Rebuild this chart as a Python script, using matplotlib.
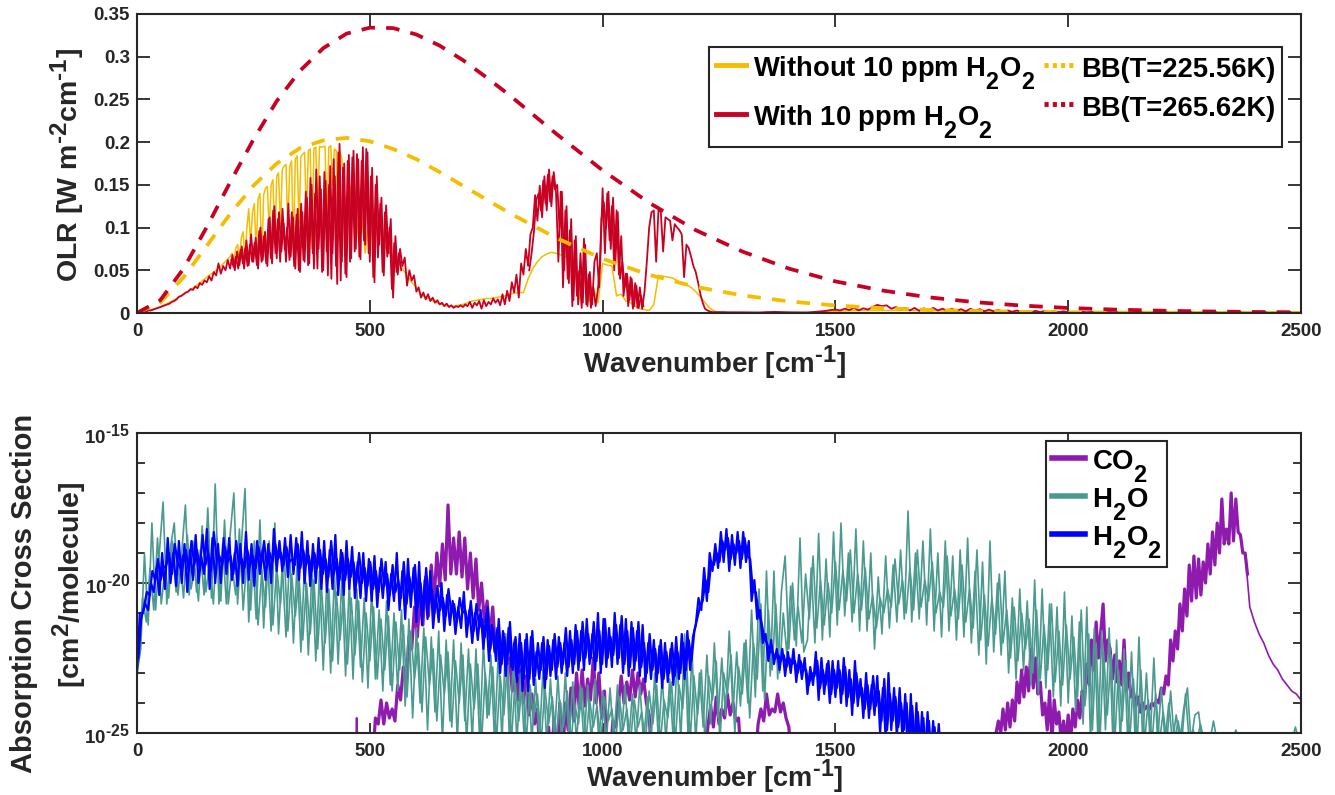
import numpy as np
import matplotlib
matplotlib.use("Agg")
import matplotlib.pyplot as plt
from matplotlib.lines import Line2D
import matplotlib.ticker as mticker
import matplotlib._mathtext as mt

# MATLAB-style scripts: large and dropped far below the baseline
mt.SHRINK_FACTOR = 0.85
mt.FontConstantsBase.sub1 = 0.9
mt.FontConstantsBase.sub2 = 0.9

plt.rcParams['font.family'] = ['Liberation Sans', 'DejaVu Sans']
plt.rcParams['font.weight'] = 'bold'
plt.rcParams['mathtext.fontset'] = 'custom'
plt.rcParams['mathtext.bf'] = 'Liberation Sans:bold'
plt.rcParams['mathtext.rm'] = 'Liberation Sans:bold'
plt.rcParams['mathtext.default'] = 'bf'

# ---------- OLR panel (values x 1e-3 W m-2 cm-1) ----------
bb_wn = [0, 50, 100, 150, 200, 250, 300, 350, 400, 450, 500, 550, 600, 650, 700, 750, 800, 900, 1000, 1100,
         1200, 1300, 1400, 1500, 1600, 1700, 1800, 1900, 2000, 2100, 2200, 2300, 2400, 2500]
bb_265 = [0, 15.0, 52.0, 100.8, 153, 203, 248, 283.5, 310, 327, 334, 333.5, 326, 313, 296, 276, 255, 210, 167, 129,
          97, 72, 52, 37, 26.4, 18.4, 12.7, 8.7, 5.9, 4.0, 2.7, 1.8, 1.2, 0.8]
bb_225 = [0, 12.4, 41.9, 78.7, 116, 149, 175, 193, 202, 205, 201, 192, 180, 165, 149, 133, 117, 88, 63.5, 44.7,
          30.6, 20.6, 13.6, 8.8, 5.7, 3.6, 2.3, 1.4, 0.9, 0.5, 0.3, 0.2, 0.1, 0.1]

red_a = [0, 0, 1, 1, 2, 3, 3, 4, 5, 6,
         7, 8, 9, 10, 11, 13, 14, 16, 19, 20,
         22, 24, 25, 28, 27, 31, 29, 35, 33, 38,
         36, 43, 38, 48, 44, 58, 46, 55, 50, 62,
         52, 68, 50, 72, 56, 78, 52, 85, 56, 92,
         60, 88, 52, 100, 62, 95, 55, 112, 58, 125,
         64, 118, 72, 105, 60, 128, 66, 112, 52, 122,
         48, 118, 60, 135, 58, 150, 52, 168, 75, 145,
         50, 155, 44, 172, 70, 160, 34, 198, 60, 175,
         42, 185, 64, 190, 75, 180, 63, 194, 80, 188,
         60, 170, 36, 160, 80, 135, 44, 126, 70, 110,
         18, 90, 45, 75, 55, 65, 32, 50, 38, 44,
         25, 30, 18, 24, 16, 22, 14, 18, 12, 15,
         10, 12, 8, 11, 7, 9, 6, 8, 7, 9,
         7, 10, 8, 13, 6, 12, 9, 14, 5, 15,
         8, 13, 10, 17, 12, 16, 9, 22, 10, 26,
         14, 36, 24, 45, 18, 58, 45, 75, 55, 92,
         100, 138, 108, 149, 112, 160, 120, 168, 125, 165,
         140, 60, 142, 30, 120, 40, 97, 8, 85, 20,
         50, 6, 87, 10, 45, 6, 30, 8, 28, 60,
         146, 70, 140, 85, 125, 50, 120, 45, 90, 20,
         46, 8, 42, 5, 35, 6, 30, 5, 25, 60,
         100, 118, 120, 60, 121, 118, 72, 112, 110, 108,
         85, 104, 100, 97, 92, 42, 80, 76, 66, 55,
         48, 36, 22, 12, 5, 3, 2, 1, 1, 1]
red_a2 = [62, 54, 66, 52, 74, 58, 76, 55, 80, 60,
          82, 56, 96, 60, 90, 58, 110, 64, 120, 70,
          110, 60, 122, 74, 100, 62, 118, 55, 115, 50,
          128, 62, 142, 56, 158, 70, 140, 52, 160, 48,
          165, 72, 150, 40, 180, 55, 188, 38, 170, 46,
          178, 60, 182, 72, 186, 66, 178, 85, 192, 70,
          160, 42, 150, 65, 128, 48, 118, 66, 100, 28,
          82, 48, 70, 50]
red_a3 = [50, 70, 95, 132, 140, 120, 155, 128, 162, 130,
          160, 145, 150, 100, 142, 50, 125, 35, 110, 15,
          90, 10, 70, 12, 80, 8, 48, 10, 60, 70,
          30, 110, 130, 100, 142, 75, 135, 60, 118, 40,
          60, 30, 46, 15, 40, 8, 32, 6, 20, 8]
red_b = [1, 1, .8, .8, .8, .7, .7, .6, .6, .6,
         1, 1.2, 1.3, 1.1, .9, .8, .7, .7, .6, .6,
         1, 1.5, 2, 2.5, 3.5, 4, 3, 5, 3.5, 6,
         3, 5.5, 4, 7, 9.5, 8, 9, 5, 7, 4,
         6, 3, 6, 2.5, 5.5, 3, 6, 3, 5, 2.5,
         5, 2.5, 4.5, 2, 5, 2.5, 4.5, 2, 4, 2,
         3.5, 1.5, 3, 1.5, 3, 1, 2.5, 1, 2.5, 1,
         2.5, 1, 2, 1, 2, .8, 1.5, .8, 1.5, .8,
         1.2, .8, 1, .7, 1, .7, 1, .7, 1, .7,
         .8, .7, .8, .6, .8, .6, .8, .6, .7, .6,
         .7, 1, .7, 1, .7, .9, .7, .9, .7, 1,
         .8, 1.1, .8, 1, .8, 1, .8, 1, .9, 1,
         1, 1, 1.2, 1, 1.3, 1.2]

yel_a = [0, 3, 7, 14, 22, 31, 42, 52]
yel_b = [66, 70, 58, 76, 80, 62, 88, 95, 62, 100,
         122, 80, 118, 128, 72, 133, 140, 60, 138, 146,
         148, 95, 150, 156, 80, 160, 164, 100, 168, 172,
         174, 100, 172, 178, 70, 180, 184, 105, 183, 186,
         188, 110, 190, 192, 75, 193, 194, 120, 195, 194,
         195, 195, 100, 194, 196, 150, 192, 190, 85, 189]
yel_c = [180, 100, 150, 80, 130, 70, 120, 90, 110, 80,
         72, 66, 60, 52, 44, 36, 30, 22, 18, 16,
         13, 11, 9, 8, 8, 9, 10, 12, 14, 15,
         16, 17, 17, 18, 19, 20, 22, 23, 24, 24,
         40, 52, 60, 66, 69, 71, 70, 68, 66, 65,
         50, 15, 45, 13, 30, 12, 58, 56, 55, 20,
         22, 14, 12, 8, 5, 4, 3, 10, 44, 43,
         42, 41, 38, 35, 33, 30, 25, 19, 12, 6, 2, 1]
yel_d = [.6, .5, .5, .6, .8, 2, 3, 3, 3, 3, 2, 2, 2, 1, 1, 1, 1, 1, 1, 1, 1, 1, 1, 1, 1]

# ---------- Cross-section panel (log10 cm2/molecule) ----------
h2o = [-23.0, -22.2, -19.0, -21.4, -18.0, -20.9, -19.0, -17.3, -20.7, -18.8,
       -18.0, -20.4, -19.0, -17.4, -20.4, -18.6, -20.3, -18.9, -20.4, -17.5,
       -20.5, -16.7, -20.7, -18.7, -20.7, -18.4, -17.0, -20.7, -18.8, -16.85,
       -21.3, -18.9, -21.2, -17.9, -21.5, -19.0, -21.6, -18.0, -21.7, -19.4,
       -21.8, -19.0, -22.0, -19.3, -22.3, -19.3, -22.4, -19.5, -22.6, -19.6,
       -22.9, -19.8, -23.0, -19.7, -22.7, -19.8, -23.1, -20.0, -23.2, -20.2,
       -22.8, -20.5, -23.5, -20.2, -23.2, -20.9, -23.6, -20.6, -23.4, -21.0,
       -23.6, -20.9, -24.1, -21.2, -24.5, -21.5, -24.0, -21.5, -24.9, -21.8,
       -24.3, -21.6, -25.3, -21.9, -24.6, -21.9, -25.3, -22.0, -24.6, -22.2,
       -25.3, -22.2, -25.3, -22.0, -24.5, -22.4, -25.3, -22.3, -25.3, -21.7,
       -25.3, -22.6, -25.3, -23.0, -25.3, -22.8, -25.3, -23.2, -25.3, -22.9,
       -25.3, -23.2, -25.3, -23.1, -25.3, -23.0, -25.3, -23.3, -25.3, -23.4,
       -25.3, -23.4, -25.3, -23.2, -25.3, -23.6, -25.3, -23.5, -25.3, -23.4,
       -25.3, -23.4, -25.3, -23.7, -25.3, -23.4, -25.3, -23.8, -25.3, -23.0,
       -25.3, -23.1, -25.3, -23.2, -25.3, -22.5, -25.3, -21.7, -25.3, -22.3,
       -25.3, -23.0, -24.8, -22.4, -24.7, -22.0, -24.5, -22.5, -24.4, -21.6,
       -24.3, -22.3, -24.1, -22.0, -24.0, -20.9, -23.8, -20.2, -23.6, -19.6,
       -23.1, -19.6, -23.2, -20.3, -19.1, -22.2, -20.0, -22.1, -18.5, -22.3,
       -21.9, -19.5, -22.0, -18.35, -21.9, -19.2, -21.8, -18.3, -21.4, -18.0,
       -21.1, -19.0, -21.3, -18.2, -21.6, -18.6, -21.6, -19.0, -22.2, -19.8,
       -21.7, -19.1, -21.5, -19.4, -21.3, -18.9, -21.2, -17.6, -21.3, -19.0,
       -21.2, -18.6, -21.4, -18.2, -21.6, -19.0, -21.8, -18.6, -21.6, -19.1,
       -21.9, -18.9, -21.8, -18.5, -22.0, -19.6, -22.4, -19.3, -22.7, -18.6,
       -22.3, -20.0, -22.4, -19.6, -23.0, -20.5, -23.2, -20.2, -22.9, -20.6,
       -23.4, -19.9, -23.7, -20.2, -23.5, -20.7, -23.8, -20.8, -24.1, -20.3,
       -24.0, -21.1, -24.3, -21.3, -24.7, -20.8, -25.3, -21.5, -25.3, -21.6,
       -24.9, -21.5, -25.3, -21.9, -25.3, -22.2, -25.3, -22.3, -25.3, -21.8,
       -25.3, -23.0, -25.3, -22.5, -25.3, -23.5, -25.3, -24.0, -25.3, -24.4,
       -25.3, -24.2, -23.5, -25.3, -24.4, -24.3, -25.3, -25.3, -25.3, -24.6,
       -25.3, -25.3, -25.3, -25.3, -25.3, -24.9, -25.3, -25.3, -25.3, -25.3,
       -25.3, -25.3, -25.3, -25.3, -25.3, -25.3, -25.3, -25.3, -25.3, -25.3,
       -25.3, -24.8, -25.3]
h2o_2 = [-22.6, -20.5, -21.3, -19.5, -20.9, -18.5, -20.7, -19.6, -20.5, -18.6,
         -20.3, -19.2, -20.5, -18.4, -20.2, -19.5, -20.6, -18.1, -20.3, -19.3,
         -20.7, -18.5, -20.6, -17.9, -20.7, -19.4, -20.4, -18.2, -20.9, -19.2,
         -20.9, -18.6, -21.4, -19.6, -20.8, -18.6, -21.4, -19.5, -20.7, -19.0,
         -21.6, -19.7, -21.1, -19.8, -21.9, -20.0, -21.7, -19.9, -22.2, -20.1,
         -22.0, -20.2, -22.6, -20.3, -21.9, -20.4, -22.7, -20.5, -22.4, -20.6,
         -23.3, -21.0, -22.6, -20.8, -23.2, -21.2, -22.9, -21.1, -23.6, -21.3,
         -22.9, -21.4, -23.8, -21.6, -23.2, -22.0, -24.3, -21.8, -23.4, -22.2,
         -24.6, -22.4, -23.7, -22.3, -24.8, -22.6, -24.0, -22.4, -25.3, -22.7,
         -24.2, -22.7, -25.3, -23.0, -24.4, -22.8, -25.3, -23.1, -24.4, -22.5,
         -25.3, -23.3, -24.6, -23.1, -25.3, -23.4, -24.5, -23.7, -25.3, -23.5,
         -24.7, -23.8, -25.3, -23.9, -24.8, -23.6, -25.3, -24.0, -24.7, -23.5,
         -25.3, -23.9, -24.8, -24.1, -25.3, -23.8, -24.6, -24.2, -25.3, -23.8,
         -24.9, -24.2, -25.3, -23.9, -24.8, -24.3, -25.3, -23.6, -24.7, -23.4,
         -25.3, -23.9, -24.5, -23.3, -25.3, -23.4, -24.2, -22.4, -25.3, -23.1,
         -24.4, -22.9, -25.3, -23.1, -23.9, -22.6, -25.3, -23.0, -23.7, -22.4,
         -25.0, -22.8, -23.7, -21.9, -24.5, -22.0, -23.2, -20.7, -23.9, -20.9,
         -22.9, -20.7, -23.0, -21.0, -22.4, -20.1, -21.9, -20.8, -22.0, -19.7,
         -21.2, -19.1, -21.5, -19.9, -21.4, -20.0, -21.0, -19.3, -20.9, -19.6,
         -20.6, -18.9, -21.0, -19.7, -20.9, -19.5, -21.2, -20.4, -21.5, -20.5,
         -21.0, -20.2, -20.8, -19.2, -20.7, -19.9, -21.0, -19.5, -20.9, -18.9,
         -20.8, -19.9, -20.6, -19.3, -21.0, -20.3, -20.8, -19.1, -21.1, -20.2,
         -21.2, -19.4, -21.3, -20.2, -21.5, -18.9, -21.9, -20.4, -22.1, -20.5,
         -21.7, -19.7, -22.0, -20.9, -22.5, -20.8, -22.6, -21.0, -22.2, -21.2,
         -23.0, -20.9, -23.2, -21.4, -22.9, -20.7, -23.3, -21.6, -23.4, -21.4,
         -23.2, -21.8, -23.8, -20.9, -24.1, -21.7, -24.9, -22.0, -25.3, -22.3,
         -24.4, -22.4, -25.3, -22.9, -24.6, -22.6, -25.3, -23.2, -25.3, -22.9,
         -25.3, -23.9, -25.3, -23.7, -25.3, -24.3, -25.3, -23.6, -25.3, -24.6,
         -25.3, -23.7, -25.3, -24.9, -25.3, -24.7, -25.3, -25.3]

co2_spike_wn = [470, 472, 474]
co2_spike = [-26, -24.5, -26]
co2_a = [-26, -26, -24.5, -24.7, -23.9, -24.7, -24.0, -24.5, -24.2, -24.6,
         -23.4, -23.9, -22.8, -23.4, -21.8, -22.2, -20.8, -21.8, -20.4, -21.4,
         -19.8, -21.1, -19.4, -20.6, -19.0, -20.1, -18.7, -19.9, -17.4, -19.7,
         -18.5, -19.7, -18.3, -19.8, -18.5, -20.2, -19.0, -20.5, -19.2, -20.9,
         -20.0, -21.3, -20.6, -21.8, -20.8, -22.3, -21.6, -22.7, -21.7, -23.0,
         -22.5, -23.6, -21.9, -23.9, -22.9, -24.0, -23.1, -24.4, -23.7, -24.7,
         -24.2, -26, -26, -26, -24.8, -26, -24.5, -26, -24.0, -26,
         -24.0, -24.9, -23.5, -24.6, -23.0, -24.2, -22.9, -24.1, -23.2, -23.9,
         -22.5, -24.0, -23.0, -24.5, -23.6, -26, -26, -24.6, -24.8, -24.0,
         -23.1, -24.0, -23.3, -23.9, -22.9, -23.8, -23.0, -23.7, -23.2, -24.0,
         -24.4, -26, -26, -26, -26, -26, -26, -26, -26, -26,
         -26, -26, -26, -26, -26, -26, -26, -26, -26, -26,
         -26, -24.8, -24.1, -24.8, -23.8, -24.7, -24.2, -24.5, -23.7, -24.4,
         -24.0, -24.6, -24.5, -26, -26, -26, -26, -26, -26, -24.7,
         -24.2, -24.6, -23.7, -24.4, -24.2, -24.3, -23.7, -24.3, -24.0, -24.5,
         -24.8, -26, -26]
co2_b = [-26, -25, -24.6, -25, -24.2, -24.9, -24.0, -24.8, -23.9, -24.6,
         -23.3, -24.0, -22.9, -23.8, -22.8, -23.6, -22.2, -23.5, -22.5, -23.7,
         -23.3, -24.4, -24.0, -24.9, -23.6, -25.3, -23.9, -24.7, -24.3, -25.3,
         -24.6, -25.3, -24.4, -25.3, -24.2, -24.8, -23.9, -24.5, -23.6, -23.9,
         -22.7, -23.4, -21.9, -22.9, -21.3, -22.5, -21.6, -20.7, -22.6, -21.9,
         -22.2, -23.2, -22.4, -23.3, -22.6, -23.4, -21.9, -23.6, -23.0, -23.8,
         -23.6, -24.1, -23.8, -24.3, -24.0, -24.2, -24.1, -24.2, -24.0, -24.1,
         -23.9, -24.0, -23.5, -23.7, -23.1, -23.4, -21.9, -22.6, -21.6, -22.2,
         -20.7, -21.6, -20.2, -21.1, -19.4, -20.6, -19.1, -20.5, -19.2, -20.4,
         -19.3, -20.0, -18.7, -19.7, -18.3, -19.4, -18.0, -19.0, -17.2, -18.7,
         -18.2, -18.7, -17.0, -18.6, -17.2, -18.3, -18.4, -19.0, -19.0, -19.7]
co2_c = [-19.0, -20.8, -21.3, -21.7, -22.0, -22.4, -22.7, -22.9, -23.2, -23.4, -23.6, -23.7, -23.9]

h2o2 = [-23.0, -21.0, -21.0, -20.7, -20.9, -20.0, -20.3, -19.5, -20.4, -19.0,
        -20.2, -18.5, -20.0, -19.0, -20.1, -18.6, -20.0, -18.7, -20.3, -18.9,
        -19.9, -18.4, -20.0, -19.1, -19.7, -18.2, -20.2, -18.5, -20.0, -18.7,
        -20.0, -18.5, -19.7, -18.5, -19.9, -19.0, -20.1, -18.7, -20.0, -18.3,
        -19.9, -18.7, -20.1, -18.6, -19.7, -18.9, -19.9, -18.7, -20.0, -18.2,
        -19.6, -18.6, -19.6, -18.5, -19.8, -18.4, -19.7, -18.5, -19.9, -18.3,
        -20.0, -18.6, -20.1, -18.7, -20.0, -18.5, -20.2, -18.6, -20.3, -18.9,
        -20.2, -18.4, -20.4, -18.9, -20.4, -18.6, -20.2, -18.8, -20.5, -19.3,
        -20.5, -19.0, -20.6, -19.2, -20.6, -19.1, -20.8, -19.5, -20.5, -19.3,
        -20.9, -19.7, -20.6, -19.0, -20.9, -19.6, -21.2, -19.2, -20.8, -19.5,
        -21.3, -19.3, -21.4, -19.9, -21.2, -19.6, -21.5, -20.4, -21.3, -20.0,
        -21.6, -20.4, -21.4, -20.6, -21.7, -20.8, -21.5, -20.3, -21.8, -20.9,
        -22.0, -21.0, -21.9, -20.9, -22.2, -21.0, -22.6, -21.4, -22.3, -21.5,
        -23.0, -21.6, -23.1, -21.5, -22.8, -22.0, -23.3, -21.7, -23.6, -21.9,
        -23.6, -21.8, -23.4, -22.3, -23.2, -22.0, -23.5, -21.9, -23.1, -21.9,
        -23.2, -21.8, -23.0, -22.0, -23.1, -21.6, -23.0, -21.4, -22.9, -21.6,
        -22.9, -21.2, -22.7, -21.7, -22.9, -21.0, -23.0, -21.2, -22.8, -21.5,
        -22.8, -21.0, -22.7, -21.4, -23.0, -21.2, -23.1, -21.3, -22.9, -21.6,
        -23.1, -21.4, -23.3, -22.0, -23.2, -21.9, -23.3, -22.1, -23.5, -22.0,
        -23.3, -22.2, -23.4, -21.8, -23.2, -21.7, -23.2, -21.6, -22.9, -21.8,
        -21.4, -20.5, -20.9, -19.5, -20.6, -19.0, -19.6, -18.7, -19.5, -18.3,
        -19.3, -18.2, -19.6, -18.4, -19.4, -18.3, -19.5, -18.3, -19.3, -18.6,
        -20.6, -19.9, -21.2, -20.9, -22.0, -21.7, -22.6, -21.9, -22.7, -22.2,
        -22.9, -22.2, -23.1, -22.3, -23.0, -22.2, -23.3, -22.4, -23.2, -22.5,
        -23.7, -22.8, -23.4, -22.3, -23.9, -22.5, -23.7, -22.7, -24.0, -22.6,
        -23.8, -22.6, -24.0, -22.5, -24.1, -22.9, -24.4, -22.6, -24.1, -23.2,
        -24.5, -23.0, -24.5, -23.4, -24.4, -23.1, -25.0, -23.5, -25.2, -23.0,
        -24.9, -23.5, -25.1, -23.5, -25.2, -23.7, -26, -23.7, -26, -24.0,
        -26, -24.3, -26, -24.3, -26, -24.6, -26, -24.7, -26, -26]
h2o2_2 = [-22.5, -21.2, -20.8, -20.3, -20.4, -19.6, -19.9, -19.2, -19.9, -19.5,
          -19.4, -19.0, -19.7, -18.7, -19.3, -19.5, -19.1, -18.9, -19.6, -18.6,
          -19.4, -18.9, -19.5, -18.4, -19.4, -19.0, -19.6, -18.3, -19.2, -19.1,
          -19.4, -18.8, -19.3, -19.1, -19.7, -18.6, -19.4, -19.2, -19.5, -18.9,
          -19.4, -19.1, -19.5, -18.8, -19.3, -18.6, -19.5, -19.0, -19.3, -18.7,
          -19.2, -19.0, -19.4, -18.8, -19.3, -19.2, -19.4, -18.7, -19.5, -18.9,
          -19.4, -19.1, -19.6, -19.0, -19.5, -18.9, -19.7, -19.2, -19.8, -18.6,
          -19.7, -19.2, -19.9, -19.0, -19.9, -19.2, -19.8, -19.3, -20.0, -19.0,
          -20.0, -19.5, -20.1, -19.3, -20.2, -19.6, -20.3, -19.2, -20.1, -19.7,
          -20.4, -19.4, -20.3, -19.9, -20.5, -19.3, -20.7, -19.8, -20.3, -19.4,
          -20.8, -20.0, -20.9, -19.5, -20.7, -20.2, -21.0, -20.1, -20.9, -20.5,
          -21.1, -20.2, -21.0, -20.7, -21.3, -20.5, -21.0, -20.9, -21.4, -20.6,
          -21.6, -20.7, -21.5, -21.2, -21.8, -20.8, -22.2, -21.5, -22.6, -21.2,
          -22.7, -21.8, -22.7, -21.3, -22.9, -21.8, -23.0, -22.0, -23.2, -21.7,
          -23.2, -21.6, -23.1, -22.0, -22.9, -21.8, -23.2, -22.1, -22.9, -21.7,
          -22.8, -22.0, -22.7, -21.5, -22.8, -21.9, -22.7, -21.6, -22.6, -21.3,
          -22.5, -21.7, -22.5, -21.3, -22.6, -21.6, -22.7, -21.2, -22.5, -21.8,
          -22.4, -21.4, -22.5, -21.1, -22.7, -21.6, -22.8, -21.5, -22.6, -21.3,
          -22.8, -22.0, -23.0, -21.7, -22.9, -22.2, -23.0, -21.9, -23.2, -22.3,
          -23.0, -22.0, -23.1, -22.3, -23.0, -22.0, -22.9, -21.9, -22.6, -21.6,
          -21.2, -20.8, -20.6, -19.9, -20.3, -19.3, -19.4, -19.0, -19.3, -18.6,
          -18.9, -18.5, -19.2, -18.7, -19.0, -18.6, -19.2, -18.5, -19.1, -19.2,
          -20.3, -20.3, -21.0, -21.3, -21.8, -22.0, -22.3, -22.3, -22.5, -22.4,
          -22.6, -22.4, -22.8, -22.5, -22.7, -22.6, -23.0, -22.6, -22.9, -22.9,
          -23.4, -23.0, -23.1, -22.6, -23.5, -22.9, -23.4, -22.6, -23.7, -22.9,
          -23.5, -22.9, -23.7, -22.8, -23.8, -23.2, -24.0, -23.0, -23.8, -23.5,
          -24.2, -23.4, -24.2, -23.1, -24.1, -23.6, -24.6, -23.2, -24.9, -23.7,
          -24.6, -23.8, -24.8, -24.0, -24.9, -24.0, -25.5, -24.1, -25.5, -24.3,
          -25.5, -24.5, -26, -24.6, -26, -24.8, -26, -25.2, -26, -26]

x_ticks = [0, 500, 1000, 1500, 2000, 2500]
olr_ticks = [0, 0.05, 0.1, 0.15, 0.2, 0.25, 0.3, 0.35]
olr_labels = ['0', '0.05', '0.1', '0.15', '0.2', '0.25', '0.3', '0.35']

YEL, RED = '#F5BC00', '#C80022'
PUR, TEAL, BLU = '#8E1BAE', '#4A9A90', '#0000FF'
INK = '#262626'

W, H = 1335, 795
fig = plt.figure(figsize=(W / 100, H / 100), dpi=100, facecolor='white')
ax1 = fig.add_axes([137 / W, 1 - 313 / H, 1164 / W, 299 / H])
ax2 = fig.add_axes([137 / W, 1 - 733 / H, 1164 / W, 300 / H])

# upper panel
red_x = np.concatenate([5 * np.arange(len(red_a)), 1250 + 10 * np.arange(len(red_b))])
red_y = np.array(red_a + red_b) / 1000
yel_x = np.concatenate([25 * np.arange(len(yel_a)),
                        200 + 4 * np.arange(len(yel_b)),
                        440 + 10 * np.arange(len(yel_c)),
                        1250 + 50 * np.arange(len(yel_d))])
yel_y = np.array(yel_a + yel_b + yel_c + yel_d) / 1000
ax1.plot(yel_x, yel_y, color=YEL, lw=1.1)
ax1.plot(red_x, red_y, color=RED, lw=1.3)
ax1.plot(202.5 + 5 * np.arange(len(red_a2)), np.array(red_a2) / 1000, color=RED, lw=1.3)
ax1.plot(842.5 + 5 * np.arange(len(red_a3)), np.array(red_a3) / 1000, color=RED, lw=1.3)
dash = (0, (3.6, 3.0))
ax1.plot(bb_wn, np.array(bb_225) / 1000, color=YEL, lw=2.7, ls=dash)
ax1.plot(bb_wn, np.array(bb_265) / 1000, color=RED, lw=2.7, ls=dash)
ax1.set_xlim(0, 2500)
ax1.set_ylim(0, 0.35)
ax1.set_yticks(olr_ticks)
ax1.set_yticklabels(olr_labels)

# lower panel
ax2.plot(co2_spike_wn, 10.0 ** np.array(co2_spike), color=PUR, lw=1.5)
ax2.plot(500 + 6 * np.arange(len(co2_a)), 10.0 ** np.array(co2_a), color=PUR, lw=2.3)
ax2.plot(1840 + 5 * np.arange(len(co2_b)), 10.0 ** np.array(co2_b), color=PUR, lw=2.3)
ax2.plot(2380 + 10 * np.arange(len(co2_c)), 10.0 ** np.array(co2_c), color=PUR, lw=1.2)
ax2.plot(8 * np.arange(len(h2o)), 10.0 ** np.array(h2o), color=TEAL, lw=1.2)
ax2.plot(4 + 8 * np.arange(len(h2o_2)), 10.0 ** np.array(h2o_2), color=TEAL, lw=1.2)
ax2.plot(6 * np.arange(len(h2o2)), 10.0 ** np.array(h2o2), color=BLU, lw=1.6)
ax2.plot(3 + 6 * np.arange(len(h2o2_2)), 10.0 ** np.array(h2o2_2), color=BLU, lw=1.6)
ax2.set_yscale('log')
ax2.set_xlim(0, 2500)
ax2.set_ylim(1e-25, 1e-15)
ax2.set_yticks([1e-25, 1e-20, 1e-15])
ax2.set_yticklabels([r'$10^{\text{-}25}$', r'$10^{\text{-}20}$', r'$10^{\text{-}15}$'])
ax2.yaxis.set_minor_locator(mticker.FixedLocator([10.0 ** e for e in range(-25, -14)]))
ax2.yaxis.set_minor_formatter(mticker.NullFormatter())

for ax in (ax1, ax2):
    ax.set_xticks(x_ticks)
    ax.tick_params(axis='both', which='major', direction='in', top=True, right=True, length=9.5,
                   width=1.3, color=INK, labelsize=13.5, pad=5, labelcolor=INK)
    ax.tick_params(axis='x', which='major', pad=7)
    ax.tick_params(axis='y', which='minor', direction='in', left=True, right=True, length=6, width=1.3, color=INK)
    for s in ax.spines.values():
        s.set_linewidth(1.5)
        s.set_color(INK)
ax2.tick_params(axis='x', which='major', length=7.5)

wn_label = r'Wavenumber [cm$^{\text{-}1}$]'
fig.text(715 / W, 1 - 363 / H, wn_label, ha='center', va='center', fontsize=20, color=INK)
fig.text(715 / W, 1 - 777 / H, wn_label, ha='center', va='center', fontsize=19.5, color=INK)
fig.text(68 / W, 1 - 165 / H, r'OLR [W m$^{\text{-}2}$cm$^{\text{-}1}$]', rotation=90, ha='center', va='center',
         fontsize=20.5, color=INK)
fig.text(24 / W, 1 - 593 / H, 'Absorption Cross Section', rotation=90, ha='center', va='center',
         fontsize=21, color=INK)
fig.text(70 / W, 1 - 585 / H, '[cm$^{2}$/molecule]', rotation=90, ha='center', va='center',
         fontsize=20.5, color=INK)

h1 = [Line2D([], [], color=YEL, lw=3.5), Line2D([], [], color=RED, lw=3.5),
      Line2D([], [], color=YEL, lw=3.5, ls=(0, (0.85, 0.85))), Line2D([], [], color=RED, lw=3.5, ls=(0, (0.85, 0.85)))]
l1 = ['Without 10 ppm H$_2$O$_2$', 'With 10 ppm H$_2$O$_2$', 'BB(T=225.56K)', 'BB(T=265.62K)']
leg1 = ax1.legend(h1, l1, ncol=2, loc='upper left', bbox_to_anchor=(709 / W, 1 - 47 / H),
                  bbox_transform=fig.transFigure, borderaxespad=0, fontsize=19.7, fancybox=False,
                  framealpha=1, edgecolor=INK, handlelength=1.1, handleheight=1.2, handletextpad=0.27,
                  columnspacing=0.3, labelspacing=0.35, borderpad=0.24)
leg1.get_frame().set_linewidth(1.5)

h2 = [Line2D([], [], color=PUR, lw=4), Line2D([], [], color=TEAL, lw=4), Line2D([], [], color=BLU, lw=4)]
l2 = ['CO$_2$', 'H$_2$O', 'H$_2$O$_2$']
leg2 = ax2.legend(h2, l2, loc='upper left', bbox_to_anchor=(1046 / W, 1 - 441 / H),
                  bbox_transform=fig.transFigure, borderaxespad=0, fontsize=19.9, fancybox=False,
                  framealpha=1, edgecolor=INK, handlelength=1.2, handleheight=1.1, handletextpad=0.25,
                  labelspacing=0.0, borderpad=0.2)
leg2.get_frame().set_linewidth(1.5)

fig.savefig('out.png', dpi=100)
